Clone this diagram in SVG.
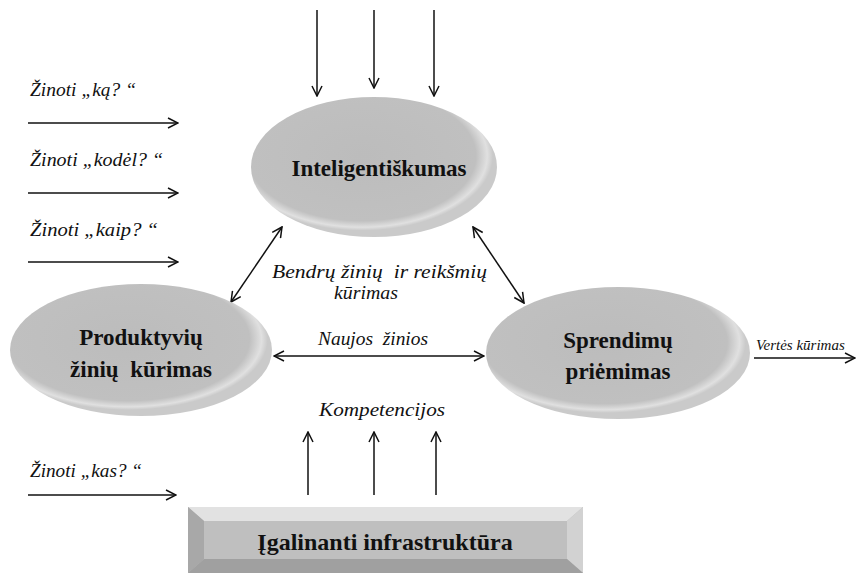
<svg xmlns="http://www.w3.org/2000/svg" width="859" height="575" viewBox="0 0 859 575">
<style>
text{font-family:"Liberation Serif","Times New Roman",serif}
.lbl{font-style:italic;font-size:18px;fill:#111}
.sm{font-size:15px}
.node{font-weight:bold;font-size:23px;fill:#111;text-anchor:middle}
.big{font-size:24px}
.ln{stroke:#111;stroke-width:1.5;fill:none}
</style>
<defs>
<radialGradient id="eg" cx="0.45" cy="0.42" r="0.58">
<stop offset="0" stop-color="#bcbcbc"/>
<stop offset="0.8" stop-color="#c0c0c0"/>
<stop offset="0.88" stop-color="#e0e0e0"/>
<stop offset="0.92" stop-color="#cacaca"/>
</radialGradient>
<marker id="ah" viewBox="0 0 12 12" refX="11" refY="6" markerWidth="12" markerHeight="12" markerUnits="userSpaceOnUse" orient="auto-start-reverse">
<path d="M1,1 L11,6 L1,11" fill="none" stroke="#111" stroke-width="1.5"/>
</marker>
</defs>
<rect width="859" height="575" fill="#fff"/>
<g id="connectors">
<line class="ln" x1="317" y1="10" x2="317" y2="96" marker-end="url(#ah)"/>
<line class="ln" x1="374" y1="10" x2="374" y2="88" marker-end="url(#ah)"/>
<line class="ln" x1="434" y1="10" x2="434" y2="96" marker-end="url(#ah)"/>
<line class="ln" x1="28" y1="123" x2="178" y2="123" marker-end="url(#ah)"/>
<line class="ln" x1="28" y1="193" x2="178" y2="193" marker-end="url(#ah)"/>
<line class="ln" x1="28" y1="262" x2="178" y2="262" marker-end="url(#ah)"/>
<line class="ln" x1="28" y1="495" x2="176" y2="495" marker-end="url(#ah)"/>
<line class="ln" x1="282" y1="227" x2="231" y2="302" marker-start="url(#ah)" marker-end="url(#ah)"/>
<line class="ln" x1="473" y1="227" x2="524" y2="303" marker-start="url(#ah)" marker-end="url(#ah)"/>
<line class="ln" x1="274" y1="356" x2="484" y2="356" marker-start="url(#ah)" marker-end="url(#ah)"/>
<line class="ln" x1="754" y1="358" x2="855" y2="358" marker-end="url(#ah)"/>
<line class="ln" x1="308" y1="495" x2="308" y2="432" marker-end="url(#ah)"/>
<line class="ln" x1="374" y1="495" x2="374" y2="432" marker-end="url(#ah)"/>
<line class="ln" x1="436" y1="495" x2="436" y2="432" marker-end="url(#ah)"/>
</g>
<g id="labels">
<text class="lbl" x="30" y="96" textLength="106" lengthAdjust="spacingAndGlyphs">Žinoti „ką? “</text>
<text class="lbl" x="30" y="166" textLength="133" lengthAdjust="spacingAndGlyphs">Žinoti „kodėl? “</text>
<text class="lbl" x="30" y="236" textLength="128" lengthAdjust="spacingAndGlyphs">Žinoti „kaip? “</text>
<text class="lbl" x="30" y="477" textLength="112" lengthAdjust="spacingAndGlyphs">Žinoti „kas? “</text>
<text class="lbl" x="272" y="278" textLength="215" lengthAdjust="spacingAndGlyphs" xml:space="preserve">Bendrų žinių  ir reikšmių</text>
<text class="lbl" x="334" y="299" textLength="64" lengthAdjust="spacingAndGlyphs">kūrimas</text>
<text class="lbl" x="318" y="345" textLength="110" lengthAdjust="spacingAndGlyphs" xml:space="preserve">Naujos  žinios</text>
<text class="lbl" x="319" y="416" textLength="126" lengthAdjust="spacingAndGlyphs">Kompetencijos</text>
<text class="lbl sm" x="756" y="350">Vertės kūrimas</text>
</g>
<g id="n-inteligentiskumas">
<ellipse cx="374" cy="167" rx="123" ry="70" fill="url(#eg)"/>
<text class="node" x="379" y="176">Inteligentiškumas</text>
</g>
<g id="n-produktyviu">
<ellipse cx="141" cy="350" rx="131" ry="66" fill="url(#eg)"/>
<text class="node" x="141" y="345">Produktyvių</text>
<text class="node" x="141" y="377" xml:space="preserve">žinių  kūrimas</text>
</g>
<g id="n-sprendimu">
<ellipse cx="618" cy="353" rx="132" ry="66" fill="url(#eg)"/>
<text class="node" x="618" y="348">Sprendimų</text>
<text class="node" x="618" y="379">priėmimas</text>
</g>
<g id="n-infrastruktura">
<rect x="188" y="507" width="395" height="66" fill="#bdbdbd"/>
<polygon points="188,507 583,507 567,521 204,521" fill="#e2e2e2"/>
<polygon points="188,507 204,521 204,559 188,573" fill="#a8a8a8"/>
<polygon points="583,507 567,521 567,559 583,573" fill="#d2d2d2"/>
<polygon points="188,573 204,559 567,559 583,573" fill="#a0a0a0"/>
<rect x="204" y="521" width="363" height="38" fill="#bfbfbf"/>
<text class="node big" x="385" y="550">Įgalinanti infrastruktūra</text>
</g>
</svg>
